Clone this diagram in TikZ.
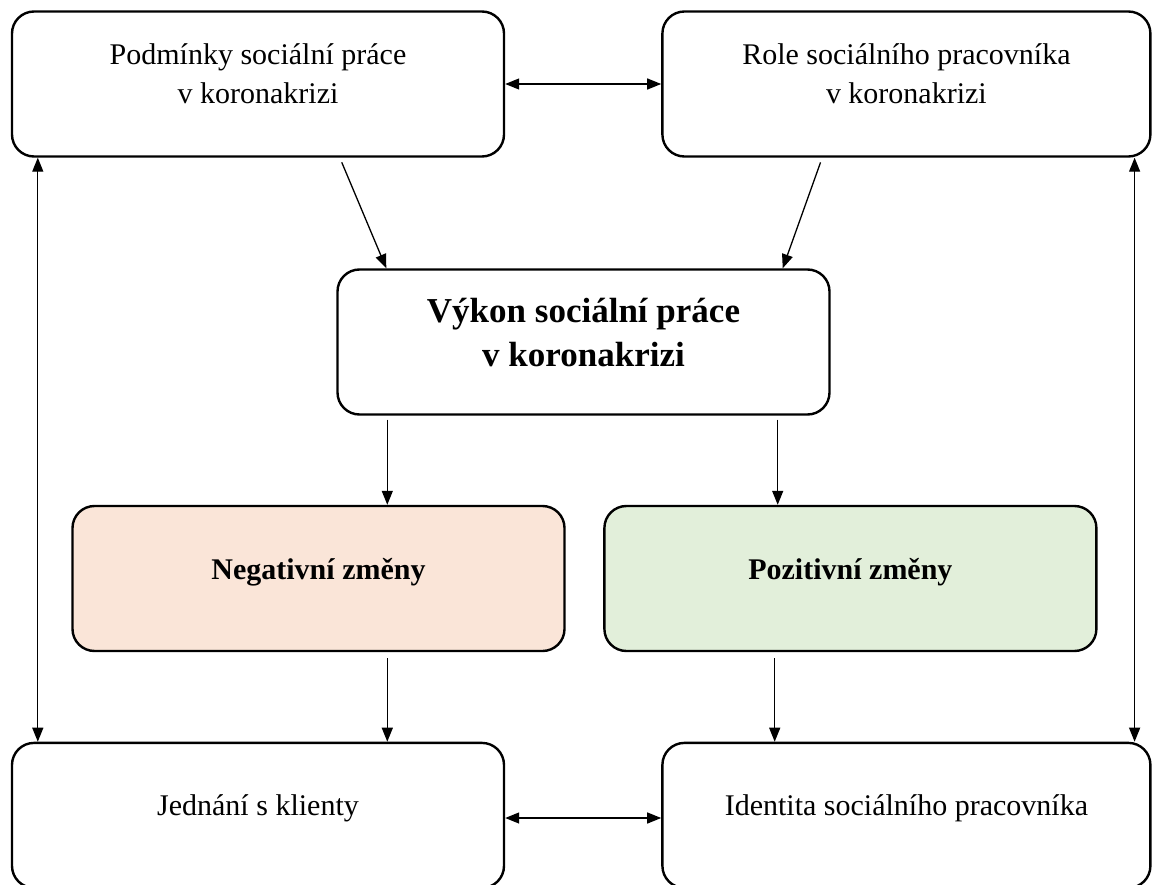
\documentclass[tikz,border=0pt]{standalone}
\usepackage{fontspec}
\setmainfont{Liberation Serif}
\usetikzlibrary{arrows.meta,positioning}
\definecolor{negfill}{HTML}{FAE5D8}
\definecolor{posfill}{HTML}{E2EFDA}
\tikzset{
    flow box/.style={
        draw=black,
        line width=2.4pt,
        rounded corners=22pt,
        fill=white,
        minimum width=492pt,
        minimum height=145pt,
        align=center,
        text depth=20pt,
        font=\fontsize{30}{39}\selectfont
    },
    flow main/.style={flow box, font=\fontsize{35}{44}\selectfont\bfseries},
    flow neg/.style={flow box, fill=negfill, font=\fontsize{30}{39}\selectfont\bfseries},
    flow pos/.style={flow box, fill=posfill, font=\fontsize{30}{39}\selectfont\bfseries},
    flow arrow/.style={-{Triangle[length=14pt,width=11pt]}, line width=1.3pt},
    flow both/.style={{Triangle[length=14pt,width=11pt]}-{Triangle[length=14pt,width=11pt]}, line width=1.3pt}
}

\begin{document}
\begin{tikzpicture}[x=1pt, y=-1pt]
\clip (0,0) rectangle (1153,885);
% top row
\node[flow box] (cond) at (258,84) {Podmínky sociální práce\\v koronakrizi};
\node[flow box, right=156pt of cond, minimum width=488pt] (role) {Role sociálního pracovníka\\v koronakrizi};
\draw[flow both] (cond.east) -- (cond.east -| role.west);

% middle
\node[flow main] (work) at (583.5,342) {Výkon sociální práce\\v koronakrizi};
\draw[flow arrow, shorten <=5pt] ([xshift=329pt]cond.south west) -- ([xshift=50pt]work.north west);
\draw[flow arrow, shorten <=5pt] ([xshift=161pt]role.south west) -- ([xshift=-48pt]work.north east);

\node[flow neg] (neg) at (318.5,578.5) {Negativní změny};
\node[flow pos, right=37.5pt of neg] (pos) {Pozitivní změny};
\draw[flow arrow, shorten <=4pt] ([xshift=51pt]work.south west) -- ([xshift=51pt]work.south west |- neg.north);
\draw[flow arrow, shorten <=4pt] ([xshift=-53pt]work.south east) -- ([xshift=-53pt]work.south east |- pos.north);

% bottom row
\node[flow box, below=584pt of cond] (clients) {Jednání s klienty};
\node[flow box, right=156pt of clients, minimum width=488pt] (ident) {Identita sociálního pracovníka};
\draw[flow both] ([yshift=-2.6pt]clients.east) -- ([yshift=-2.6pt]clients.east -| ident.west);
\draw[flow arrow, shorten <=6pt] ([xshift=51pt]work.south west |- neg.south) -- ([xshift=51pt]work.south west |- clients.north);
\draw[flow arrow, shorten <=6pt] ([xshift=-56pt]work.south east |- pos.south) -- ([xshift=-56pt]work.south east |- ident.north);

% side links
\draw[flow both] ([xshift=27pt]cond.south west) -- ([xshift=27pt]cond.south west |- clients.north);
\draw[flow both] ([xshift=-17pt]role.south east) -- ([xshift=-17pt]role.south east |- ident.north);
\end{tikzpicture}
\end{document}
